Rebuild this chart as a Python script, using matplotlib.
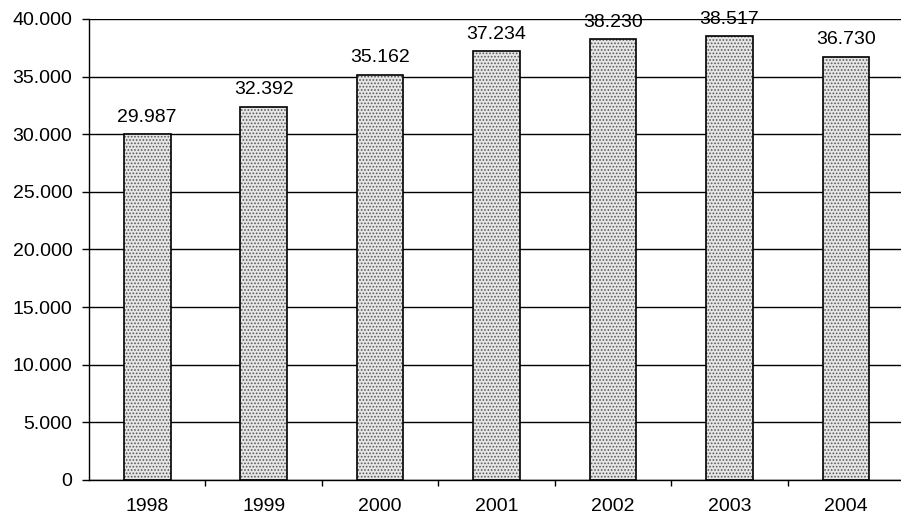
import matplotlib
matplotlib.use('Agg')
import matplotlib.pyplot as plt
from matplotlib.ticker import FuncFormatter, FixedLocator

anos = ['1998', '1999', '2000', '2001', '2002', '2003', '2004']
valores = [29987, 32392, 35162, 37234, 38230, 38517, 36730]
marcas_y = [0, 5000, 10000, 15000, 20000, 25000, 30000, 35000, 40000]

plt.rcParams['font.family'] = ['Liberation Sans', 'DejaVu Sans']
plt.rcParams['hatch.linewidth'] = 0.8


def milhares(v, pos=None):
    return f"{int(v):,}".replace(',', '.')


fig = plt.figure(figsize=(9.01, 5.17), dpi=100)
# área do gráfico em pixels: x 89..904, y 19..480
ax = fig.add_axes([89 / 901, (517 - 480) / 517, (904 - 89) / 901, (480 - 19) / 517])

x = list(range(len(anos)))
largura = 0.40

# textura pontilhada e contorno preto desenhados em separado
ax.bar(x, valores, width=largura, color='#e6e6e6', edgecolor='#5a5a5a',
       hatch='.....', linewidth=0, zorder=2)
ax.bar(x, valores, width=largura, fill=False, edgecolor='black',
       linewidth=1.2, zorder=3)

for xi, v in zip(x, valores):
    ax.annotate(milhares(v), (xi, v), xytext=(0, 6), textcoords='offset points',
                ha='center', va='bottom', fontsize=14, zorder=4)

ax.set_xlim(-0.5, len(anos) - 0.5)
ax.set_ylim(0, 40000)
ax.set_yticks(marcas_y)
ax.yaxis.set_major_formatter(FuncFormatter(milhares))
ax.grid(axis='y', color='black', linewidth=1.0, zorder=1)
ax.set_axisbelow(True)

ax.set_xticks(x)
ax.set_xticklabels(anos)
ax.xaxis.set_minor_locator(FixedLocator([i + 0.5 for i in range(len(anos) - 1)]))
ax.tick_params(axis='x', which='major', length=0, pad=13, labelsize=14)
ax.tick_params(axis='x', which='minor', length=4, width=1, direction='out', color='black')
ax.tick_params(axis='y', length=5, width=1, pad=7, labelsize=14)

for lado in ['top', 'right']:
    ax.spines[lado].set_visible(False)
ax.spines['left'].set_linewidth(1.0)
ax.spines['bottom'].set_linewidth(1.0)

fig.savefig('out.png', dpi=100)
